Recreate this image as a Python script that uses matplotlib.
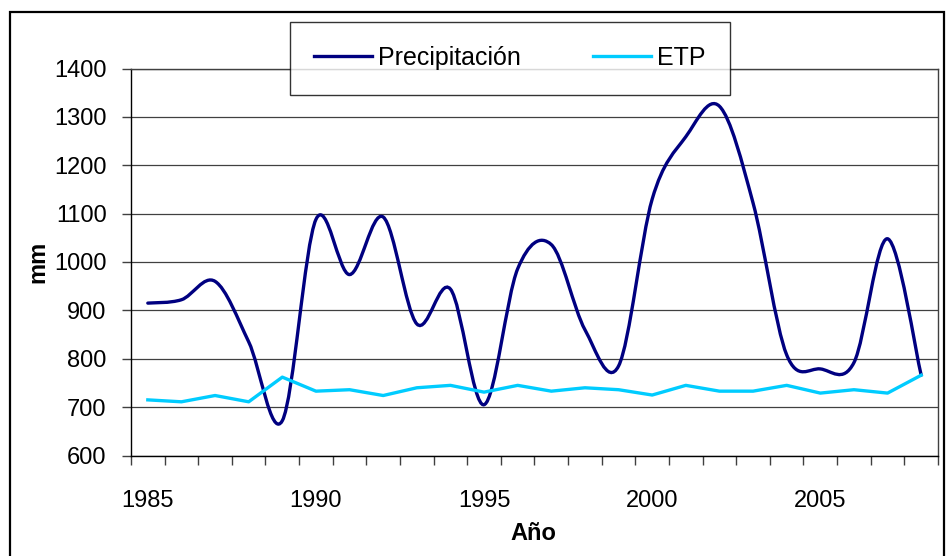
import numpy as np
import matplotlib.pyplot as plt
from matplotlib import font_manager
from matplotlib.path import Path
from matplotlib.patches import PathPatch, Rectangle
from matplotlib.lines import Line2D

# valores
years = list(range(1985, 2009))
precipitacion = [915, 922, 960, 835, 672, 1088, 974, 1093, 872, 944,
                 705, 986, 1036, 860, 785, 1130, 1259, 1322, 1122, 808,
                 779, 792, 1048, 766]
etp = [715, 711, 724, 711, 762, 733, 736, 724, 740, 745,
       731, 745, 733, 740, 736, 725, 745, 733, 733, 745,
       729, 736, 729, 766]
year_labels = [1985, 1990, 1995, 2000, 2005]

# Arial Narrow look-alike if available
try:
    font_manager.findfont('Liberation Sans Narrow', fallback_to_default=False)
    fam, fs, fs_leg = 'Liberation Sans Narrow', 20, 21
except ValueError:
    fam, fs, fs_leg = 'Liberation Sans', 17, 18
plt.rcParams['font.family'] = fam

navy = '#000080'
cyan = '#00CCFF'


def smooth_path(x, y):
    # Excel-like smoothed line (Catmull-Rom as cubic Bezier)
    pts = np.column_stack([x, y]).astype(float)
    ext = np.vstack([pts[0], pts, pts[-1]])
    verts = [pts[0]]
    codes = [Path.MOVETO]
    for i in range(len(pts) - 1):
        p0, p1, p2, p3 = ext[i], ext[i + 1], ext[i + 2], ext[i + 3]
        verts += [p1 + (p2 - p0) / 6, p2 - (p3 - p1) / 6, p2]
        codes += [Path.CURVE4] * 3
    return Path(verts, codes)


W, H = 947, 556
fig = plt.figure(figsize=(W / 100, H / 100), dpi=100)
ax = fig.add_axes([131 / W, 1 - 455.5 / H, (938 - 131) / W, (455.5 - 68.5) / H])

ax.add_patch(PathPatch(smooth_path(years, precipitacion), fill=False,
                       edgecolor=navy, lw=2.4, capstyle='round', zorder=3))
ax.plot(years, etp, color=cyan, lw=2.4, zorder=3)

ax.set_xlim(1984.5, 2008.5)
ax.set_ylim(600, 1400)
ax.set_yticks(range(600, 1401, 100))
ax.set_xticks(year_labels)
ax.set_xticks(np.arange(1984.5, 2009, 1), minor=True)
ax.tick_params(axis='x', which='major', length=0, pad=25, labelsize=fs)
ax.tick_params(axis='x', which='minor', length=6.5, width=1, color='#404040', direction='out')
ax.tick_params(axis='y', length=6.5, width=1, color='#404040', direction='out', pad=11, labelsize=fs)
ax.grid(axis='y', color='#404040', lw=0.9)
ax.set_axisbelow(True)
for s in ax.spines.values():
    s.set_color('#404040')
    s.set_linewidth(1)
ax.spines['left'].set_color('black')
ax.spines['bottom'].set_color('black')

fig.text(38 / W, 1 - 262 / H, 'mm', rotation=90, ha='center', va='center',
         fontsize=fs, fontweight='bold')
fig.text(533 / W, 1 - 533 / H, 'Año', ha='center', va='center',
         fontsize=fs, fontweight='bold')

handles = [Line2D([], [], color=navy, lw=2.4), Line2D([], [], color=cyan, lw=2.4)]
leg = ax.legend(handles, ['Precipitación', 'ETP'], loc='center',
                bbox_to_anchor=(510 / W, 1 - 58 / H), bbox_transform=fig.transFigure,
                ncol=2, frameon=True, fancybox=False, edgecolor='black',
                handlelength=2.3, handletextpad=0.26, columnspacing=2.9,
                borderpad=0.98, prop=dict(family=fam, size=fs_leg))
leg.get_frame().set_linewidth(1.0)
leg.set_zorder(10)

# outer chart border
fig.patches.append(Rectangle((10 / W, -0.05), (944 - 10) / W, 1.05 - 12 / H,
                             transform=fig.transFigure, fill=False,
                             edgecolor='black', lw=1.6))

plt.savefig('out.png', dpi=100)
